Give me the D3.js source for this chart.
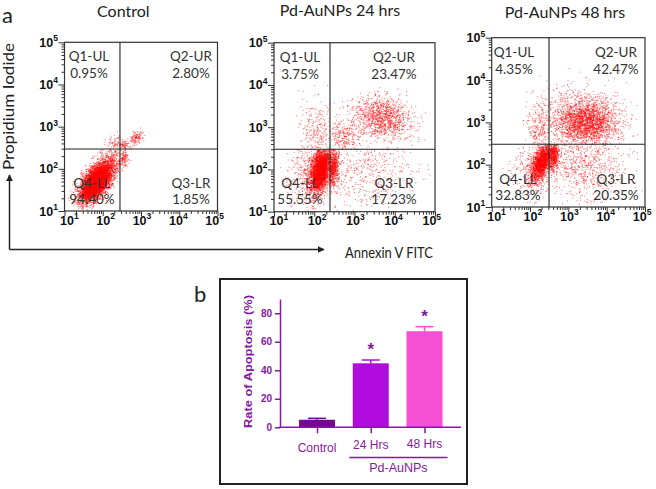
<!DOCTYPE html>
<html><head><meta charset="utf-8">
<script src="https://cdn.jsdelivr.net/npm/d3@7"></script>
<style>body{margin:0;background:#fff}svg{display:block}</style>
</head><body>
<svg id="c" width="656" height="489"></svg>
<script>
// ---------------- DATA ----------------
const panelTitles = ["Control", "Pd-AuNPs 24 hrs", "Pd-AuNPs 48 hrs"];
const quadrantNames = ["Q1-UL", "Q2-UR", "Q3-LR", "Q4-LL"];
const quadrantPct = [
  [0.95, 2.80, 1.85, 94.40],
  [3.75, 23.47, 17.23, 55.55],
  [4.35, 42.47, 20.35, 32.83]
];
const gateX = [282, 246, 313];   // Annexin V gate
const gateY = [295, 300, 303];   // PI gate
const logTicks = [1e1, 1e2, 1e3, 1e4, 1e5];
const tickExponents = ["1", "2", "3", "4", "5"];
const eventsPerPanel = [6500, 6200, 6200];
// event populations:
// [quadrant, share of quadrant, log10 x centre, log10 y centre, sd x, sd y, correlation]
const clustersControl = [
  [3, 0.80, 1.82, 1.66, 0.20, 0.22, 0.55],
  [3, 0.20, 2.00, 1.90, 0.28, 0.30, 0.65],
  [1, 0.65, 2.88, 2.74, 0.09, 0.08, 0.30],
  [1, 0.35, 2.58, 2.56, 0.08, 0.07, 0.30],
  [0, 1.00, 2.30, 2.60, 0.10, 0.10, 0.20],
  [2, 1.00, 2.55, 2.25, 0.07, 0.12, 0.30]
];
const clusters24h = [
  [3, 0.85, 2.16, 1.98, 0.13, 0.26, 0.35],
  [3, 0.15, 1.95, 1.90, 0.30, 0.40, 0.20],
  [2, 0.60, 2.46, 2.05, 0.08, 0.24, 0.20],
  [2, 0.40, 3.30, 1.95, 0.65, 0.45, 0.00],
  [1, 0.82, 3.70, 3.22, 0.36, 0.25, -0.20],
  [1, 0.18, 2.70, 2.75, 0.25, 0.20, 0.10],
  [0, 1.00, 2.10, 2.85, 0.25, 0.40, 0.00]
];
const clusters48h = [
  [3, 0.85, 2.30, 2.05, 0.14, 0.22, 0.50],
  [3, 0.15, 2.10, 1.90, 0.30, 0.40, 0.20],
  [2, 0.45, 2.60, 2.20, 0.08, 0.18, 0.20],
  [2, 0.55, 3.40, 2.00, 0.55, 0.40, 0.00],
  [1, 0.72, 3.50, 3.00, 0.40, 0.26, 0.00],
  [1, 0.28, 3.20, 3.05, 0.55, 0.40, 0.00],
  [0, 1.00, 2.28, 2.85, 0.18, 0.35, 0.00]
];
const panelClusters = [clustersControl, clusters24h, clusters48h];

const barCategories = ["Control", "24 Hrs", "48 Hrs"];
const barRates = [5.3, 44.9, 67.4];
const barErrors = [1.0, 2.3, 3.2];
const barYTicks = [0, 20, 40, 60, 80];
const barGroupLabel = "Pd-AuNPs";
const barGroupMembers = ["24 Hrs", "48 Hrs"];
const significant = [false, true, true];

// ---------------- LAYOUT ----------------
const boxes = [
  {x0: 64.5, x1: 217.5, y0: 42.3, y1: 211, tx: 123.3, ty: 16.5, lx: 89, llx: 92, rx: 191},
  {x0: 274, x1: 435, y0: 42.7, y1: 211.7, tx: 340, ty: 15.5, lx: 300, llx: 300, rx: 394},
  {x0: 491.7, x1: 645, y0: 37.7, y1: 207, tx: 565, ty: 18, lx: 514, llx: 518, rx: 616}
];
const svg = d3.select("#c");
const SANS = "Lato, 'Open Sans', sans-serif";
const ARIAL = "'Liberation Sans', Arial, sans-serif";
const defs = svg.append("defs");
defs.append("marker").attr("id", "ah").attr("viewBox", "0 0 10 10")
  .attr("refX", 9).attr("refY", 5).attr("markerWidth", 7).attr("markerHeight", 7)
  .attr("markerUnits", "userSpaceOnUse").attr("orient", "auto")
  .append("path").attr("d", "M0,0L10,5L0,10z").attr("fill", "#222");

const rng = d3.randomLcg(0.3141);
const nrm = d3.randomNormal.source(rng)(0, 1);
function inQuad(q, right, up) {
  return (q === 0 && !right && up) || (q === 1 && right && up) ||
         (q === 2 && right && !up) || (q === 3 && !right && !up);
}

const minorVals = [];
for (let e = 1; e < 5; e++) for (let m = 2; m <= 9; m++) minorVals.push(m * Math.pow(10, e));

panelTitles.forEach((title, p) => {
  const b = boxes[p];
  const x = d3.scaleLog().domain([1e1, 1e5]).range([b.x0, b.x1]);
  const y = d3.scaleLog().domain([1e1, 1e5]).range([b.y1, b.y0]);
  // the printed x tick labels sit on a slightly compressed row
  const xl = d3.scaleLog().domain([1e1, 1e5]).range([b.x0 - 4.5, b.x0 - 4.5 + 0.95 * (b.x1 - b.x0)]);
  const g = svg.append("g");
  const lgx = Math.log10(gateX[p]), lgy = Math.log10(gateY[p]);

  // events
  const pts = [];
  const N = eventsPerPanel[p];
  quadrantNames.forEach((qn, q) => {
    const nq = Math.round(N * quadrantPct[p][q] / 100);
    const cls = panelClusters[p].filter(c => c[0] === q);
    cls.forEach(c => {
      const n = Math.round(nq * c[1]);
      for (let i = 0; i < n; i++) {
        for (let t = 0; t < 80; t++) {
          const a = nrm(), bb = nrm();
          const lx = c[2] + c[4] * a;
          const ly = c[3] + c[5] * (c[6] * a + Math.sqrt(1 - c[6] * c[6]) * bb);
          if (lx < 1.03 || lx > 4.97 || ly < 1.03 || ly > 4.97) continue;
          if (inQuad(q, lx >= lgx, ly >= lgy)) { pts.push([Math.pow(10, lx), Math.pow(10, ly)]); break; }
        }
      }
    });
  });
  g.append("g").selectAll("rect").data(pts).join("rect")
    .attr("x", d => x(d[0]) - 0.5).attr("y", d => y(d[1]) - 0.5)
    .attr("width", 1).attr("height", 1)
    .attr("fill", "#ff0000").attr("fill-opacity", 0.55);

  // box
  g.append("rect").attr("x", b.x0).attr("y", b.y0).attr("width", b.x1 - b.x0).attr("height", b.y1 - b.y0)
    .attr("fill", "none").attr("stroke", "#333").attr("stroke-width", 1.2);
  // gates
  g.append("line").attr("x1", x(gateX[p])).attr("x2", x(gateX[p])).attr("y1", b.y0).attr("y2", b.y1)
    .attr("stroke", "#222").attr("stroke-width", 1.1);
  g.append("line").attr("x1", b.x0).attr("x2", b.x1).attr("y1", y(gateY[p])).attr("y2", y(gateY[p]))
    .attr("stroke", "#222").attr("stroke-width", 1.1);

  // axes ticks
  const styleAx = sel => { sel.select(".domain").remove(); sel.selectAll("line").attr("stroke", "#333"); };
  g.append("g").attr("transform", `translate(0,${b.y1})`)
    .call(d3.axisBottom(x).tickValues(minorVals).tickSize(3).tickFormat("")).call(styleAx);
  g.append("g").attr("transform", `translate(0,${b.y1})`)
    .call(d3.axisBottom(x).tickValues(logTicks).tickSize(5).tickFormat("")).call(styleAx);
  g.append("g").attr("transform", `translate(${b.x0},0)`)
    .call(d3.axisLeft(y).tickValues(minorVals).tickSize(3).tickFormat("")).call(styleAx);
  g.append("g").attr("transform", `translate(${b.x0},0)`)
    .call(d3.axisLeft(y).tickValues(logTicks).tickSize(6).tickFormat("")).call(styleAx);

  // tick labels
  logTicks.forEach((v, i) => {
    const tx = g.append("text").attr("x", xl(v)).attr("y", b.y1 + 13.5)
      .attr("text-anchor", "start").attr("font-family", ARIAL).attr("font-weight", "bold")
      .attr("font-size", 12.5).attr("fill", "#111");
    tx.append("tspan").text("10");
    tx.append("tspan").attr("dy", -5.5).attr("font-size", 8.5).text(tickExponents[i]);
    const ty = g.append("text").attr("x", b.x0 - 6.5).attr("y", y(v) + 4.5)
      .attr("text-anchor", "end").attr("font-family", ARIAL).attr("font-weight", "bold")
      .attr("font-size", 12.5).attr("fill", "#111");
    ty.append("tspan").text("10");
    ty.append("tspan").attr("dy", -5.5).attr("font-size", 8.5).text(tickExponents[i]);
  });

  // title
  g.append("text").attr("x", b.tx).attr("y", b.ty).attr("text-anchor", "middle")
    .attr("font-family", SANS).attr("font-size", 16).attr("fill", "#222").text(title);

  // quadrant labels
  const qpos = [
    [b.lx, b.y0 + 19, b.y0 + 36],
    [b.rx, b.y0 + 19, b.y0 + 36],
    [b.rx, b.y1 - 23.5, b.y1 - 7.5],
    [b.llx, b.y1 - 23.5, b.y1 - 7.5]
  ];
  quadrantNames.forEach((qn, q) => {
    const [qx, qy1, qy2] = qpos[q];
    g.append("text").attr("x", qx).attr("y", qy1).attr("text-anchor", "middle")
      .attr("font-family", SANS).attr("font-size", 13.5).attr("fill", "#333").text(qn);
    g.append("text").attr("x", qx).attr("y", qy2).attr("text-anchor", "middle")
      .attr("font-family", SANS).attr("font-size", 13.5).attr("fill", "#333")
      .text(quadrantPct[p][q].toFixed(2) + "%");
  });
});

// panel label and outer axis arrows
svg.append("text").attr("x", 2).attr("y", 23).attr("font-family", SANS).attr("font-size", 22)
  .attr("fill", "#222").text("a");
svg.append("line").attr("x1", 9.5).attr("y1", 249.5).attr("x2", 9.5).attr("y2", 175)
  .attr("stroke", "#222").attr("stroke-width", 1.5).attr("marker-end", "url(#ah)");
svg.append("line").attr("x1", 9.5).attr("y1", 249.5).attr("x2", 324).attr("y2", 249.5)
  .attr("stroke", "#222").attr("stroke-width", 1.5).attr("marker-end", "url(#ah)");
svg.append("text").attr("transform", "translate(14,106.5) rotate(-90)").attr("text-anchor", "middle")
  .attr("font-family", SANS).attr("font-size", 15).attr("fill", "#222")
  .attr("textLength", 127).attr("lengthAdjust", "spacingAndGlyphs").text("Propidium Iodide");
svg.append("text").attr("x", 345).attr("y", 257.5)
  .attr("font-family", SANS).attr("font-size", 15).attr("fill", "#222")
  .attr("textLength", 88).attr("lengthAdjust", "spacingAndGlyphs").text("Annexin V FITC");

// ---------------- panel b: bar chart ----------------
const PURPLE = "#84189e";
const barColors = ["#760a8c", "#b00cde", "#f550d4"];
svg.append("rect").attr("x", 220).attr("y", 279).attr("width", 247).attr("height", 205)
  .attr("fill", "none").attr("stroke", "#222").attr("stroke-width", 2);
svg.append("text").attr("x", 194).attr("y", 302).attr("font-family", SANS).attr("font-size", 22)
  .attr("fill", "#222").text("b");

const yb = d3.scaleLinear().domain([0, 90]).range([427.3, 299]);
const xb = d3.scalePoint().domain(barCategories).range([317, 424.5]);
const bw = 36;
const gb = svg.append("g");

gb.selectAll("rect.bar").data(barCategories).join("rect").attr("class", "bar")
  .attr("x", d => xb(d) - bw / 2).attr("width", bw)
  .attr("y", (d, i) => yb(barRates[i])).attr("height", (d, i) => yb(0) - yb(barRates[i]))
  .attr("fill", (d, i) => barColors[i]);
// error bars
barCategories.forEach((c, i) => {
  const cx = xb(c), top = yb(barRates[i] + barErrors[i]);
  gb.append("line").attr("x1", cx).attr("x2", cx).attr("y1", yb(barRates[i])).attr("y2", top)
    .attr("stroke", barColors[i]).attr("stroke-width", 1.5);
  gb.append("line").attr("x1", cx - 9).attr("x2", cx + 9).attr("y1", top).attr("y2", top)
    .attr("stroke", barColors[i]).attr("stroke-width", 1.5);
  if (significant[i]) {
    gb.append("text").attr("x", cx).attr("y", top - 5).attr("text-anchor", "middle")
      .attr("font-family", ARIAL).attr("font-weight", "bold").attr("font-size", 17)
      .attr("fill", "#7a1e96").text("*");
  }
});
// y axis
const ya = gb.append("g").attr("transform", "translate(280,0)")
  .call(d3.axisLeft(yb).tickValues(barYTicks).tickSize(5).tickSizeOuter(0).tickPadding(3));
ya.select(".domain").attr("stroke", PURPLE).attr("stroke-width", 1.5);
ya.selectAll("line").attr("stroke", PURPLE).attr("stroke-width", 1.5);
ya.selectAll("text").attr("font-family", ARIAL).attr("font-weight", "bold").attr("font-size", 10)
  .attr("fill", PURPLE);
// x axis
gb.append("line").attr("x1", 279.3).attr("x2", 461).attr("y1", yb(0)).attr("y2", yb(0))
  .attr("stroke", PURPLE).attr("stroke-width", 1.5);
const xa = gb.append("g").attr("transform", `translate(0,${yb(0)})`)
  .call(d3.axisBottom(xb).tickSize(6).tickFormat("").tickSizeOuter(0));
xa.select(".domain").remove();
xa.selectAll("line").attr("stroke", PURPLE).attr("stroke-width", 1.5);
const catY = [451.5, 449, 447.5];
barCategories.forEach((c, i) => {
  gb.append("text").attr("x", xb(c)).attr("y", catY[i]).attr("text-anchor", "middle")
    .attr("font-family", ARIAL).attr("font-size", 12).attr("fill", PURPLE).text(c);
});
const gx0 = xb(barGroupMembers[0]) - 21.5, gx1 = xb(barGroupMembers[barGroupMembers.length - 1]) + 23;
gb.append("line").attr("x1", gx0).attr("x2", gx1).attr("y1", 457.5).attr("y2", 457.5)
  .attr("stroke", PURPLE).attr("stroke-width", 1.3);
gb.append("text").attr("x", (gx0 + gx1) / 2).attr("y", 471.5).attr("text-anchor", "middle")
  .attr("font-family", ARIAL).attr("font-size", 12.5).attr("fill", PURPLE).text(barGroupLabel);
gb.append("text").attr("transform", "translate(252,361.5) rotate(-90)").attr("text-anchor", "middle")
  .attr("font-family", ARIAL).attr("font-weight", "bold").attr("font-size", 11).attr("fill", PURPLE)
  .attr("textLength", 133).attr("lengthAdjust", "spacingAndGlyphs").text("Rate of Apoptosis (%)");
</script>
</body></html>
